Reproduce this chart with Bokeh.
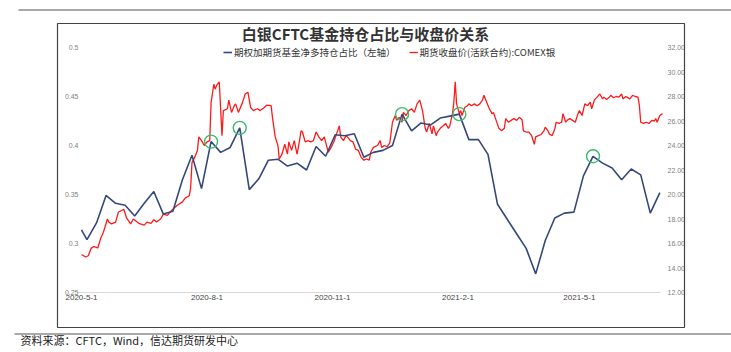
import pandas as pd
from bokeh.plotting import figure
from bokeh.models import (Range1d, LinearAxis, FixedTicker, NumeralTickFormatter,
                          Legend, LegendItem, BoxAnnotation, Label, ColumnDataSource)
from bokeh.embed import file_html
from bokeh.resources import INLINE

# ---------------- data ----------------
title_text = "白银CFTC基金持仓占比与收盘价关系"
series_names = ["期权加期货基金净多持仓占比（左轴）", "期货收盘价(活跃合约):COMEX银"]
source_note = "资料来源：CFTC，Wind，信达期货研发中心"

cftc_dates = ["2020-05-01"] + [d.strftime("%Y-%m-%d") for d in pd.date_range("2020-05-05", periods=61, freq="7D")]
cftc_ratio = [0.314, 0.304, 0.321, 0.349, 0.341, 0.339, 0.328, 0.341, 0.353, 0.330,
              0.333, 0.365, 0.390, 0.356, 0.404, 0.393, 0.398, 0.418, 0.355, 0.366,
              0.385, 0.386, 0.379, 0.382, 0.375, 0.399, 0.389, 0.411, 0.410, 0.412,
              0.388, 0.393, 0.395, 0.400, 0.432, 0.415, 0.423, 0.421, 0.428, 0.430,
              0.432, 0.406, 0.406, 0.391, 0.340, 0.325, 0.310, 0.295, 0.269, 0.303,
              0.326, 0.331, 0.332, 0.369, 0.389, 0.382, 0.377, 0.365, 0.376, 0.370,
              0.331, 0.352]
highlight_idx = [14, 17, 34, 40, 54]

price_start = "2020-05-01"
price_day = [0, 3, 5, 7, 9, 12, 14, 16, 19, 20, 22, 25, 27, 31, 33, 36, 38, 42, 46, 48,
             51, 53, 55, 58, 60, 63, 66, 70, 74, 76, 79, 80, 81, 83, 85, 86, 88, 90, 92, 94,
             95, 97, 98, 99, 101, 103, 104, 107, 108, 110, 112, 113, 115, 118, 120, 122, 124, 126, 129, 131,
             134, 136, 139, 140, 142, 144, 145, 147, 149, 151, 152, 154, 156, 158, 159, 161, 162, 164, 166, 168,
             170, 172, 174, 176, 178, 180, 181, 183, 185, 187, 189, 190, 192, 194, 195, 197, 199, 201, 203, 205,
             207, 209, 211, 212, 214, 217, 219, 220, 222, 224, 226, 228, 230, 231, 233, 235, 236, 238, 240, 242,
             244, 246, 248, 250, 252, 253, 255, 257, 258, 260, 261, 263, 265, 267, 269, 270, 272, 273, 274, 275,
             277, 278, 279, 281, 283, 284, 286, 288, 290, 292, 294, 295, 297, 299, 301, 302, 304, 306, 308, 310,
             311, 313, 315, 317, 319, 321, 323, 324, 326, 328, 330, 332, 333, 335, 337, 339, 340, 342, 343, 345,
             347, 348, 350, 352, 353, 355, 356, 358, 360, 362, 364, 365, 367, 369, 371, 373, 374, 376, 378, 380,
             382, 383, 385, 387, 388, 390, 392, 394, 396, 397, 399, 400, 402, 404, 406, 408, 409, 410, 412, 414,
             416, 418, 420, 421, 422, 424, 426]
price = [15.1, 14.9, 15.0, 15.6, 15.75, 15.65, 16.4, 16.9, 18.0, 17.75, 17.6, 17.75, 18.55, 18.8, 18.1, 17.6, 18.0, 17.65, 17.5, 17.75,
         17.65, 17.95, 17.75, 18.0, 18.4, 18.3, 18.7, 19.1, 19.4, 19.7, 19.9, 20.5, 22.6, 23.05, 23.6, 24.7, 24.4, 24.0, 24.3, 24.4,
         27.5, 29.0, 28.6, 28.9, 29.2, 24.8, 26.85, 27.0, 27.7, 26.7, 27.25, 27.4, 26.7, 27.5, 28.2, 28.35, 27.1, 26.85, 27.0, 26.85,
         27.1, 27.3, 27.25, 26.3, 24.7, 24.0, 22.9, 23.3, 24.1, 23.3, 24.3, 23.6, 24.4, 23.3, 23.85, 25.2, 25.1, 24.3, 24.4, 24.3,
         24.4, 25.1, 24.7, 24.4, 24.7, 23.85, 23.45, 23.85, 24.3, 24.95, 25.6, 24.7, 24.4, 24.8, 24.7, 24.4, 24.3, 23.7, 23.6, 23.05,
         22.8, 22.9, 22.8, 23.45, 23.85, 24.0, 24.4, 23.85, 24.0, 23.9, 24.2, 25.9, 26.45, 26.05, 26.3, 25.9, 26.7, 26.45, 26.85, 27.0,
         26.7, 27.4, 27.7, 26.85, 25.4, 25.1, 25.8, 24.95, 25.6, 24.8, 25.1, 25.4, 25.6, 25.8, 25.4, 25.6, 26.6, 27.55, 29.2, 27.4,
         26.6, 26.85, 26.45, 27.1, 27.25, 27.4, 27.25, 27.4, 27.25, 27.4, 27.7, 28.1, 27.55, 27.0, 26.6, 26.7, 26.05, 25.4, 25.2, 25.4,
         26.2, 25.9, 26.05, 26.2, 26.05, 26.3, 26.1, 25.2, 25.1, 25.1, 24.8, 24.1, 24.7, 24.8, 24.9, 25.2, 25.5, 25.2, 24.95, 24.8,
         25.35, 25.9, 25.8, 25.9, 26.6, 25.9, 26.05, 26.2, 26.05, 25.9, 26.6, 26.85, 26.45, 27.4, 27.25, 27.55, 27.0, 27.7, 27.95, 28.2,
         27.8, 27.95, 27.75, 27.95, 28.1, 27.9, 28.0, 27.95, 28.2, 27.8, 28.0, 27.95, 27.8, 28.1, 28.0, 27.95, 27.25, 25.9, 25.8, 25.9,
         25.8, 26.05, 26.0, 26.2, 25.9, 26.45, 26.6]

left_ticks = [0.25, 0.3, 0.35, 0.4, 0.45, 0.5]
right_ticks = [12, 14, 16, 18, 20, 22, 24, 26, 28, 30, 32]
x_tick_dates = ["2020-05-01", "2020-08-01", "2020-11-01", "2021-02-01", "2021-05-01"]
x_tick_labels = ["2020-5-1", "2020-8-1", "2020-11-1", "2021-2-1", "2021-5-1"]

# ---------------- layout helpers (canvas pixel <-> data) ----------------
W, H = 731, 352
DAY_MS = 86400000.0
PX_PER_DAY = 1.364
X0_PX = 81            # pixel of first date
def ms(ts):
    return pd.Timestamp(ts).value / 1e6
def x_at(px):
    return ms(price_start) + (px - X0_PX) / PX_PER_DAY * DAY_MS
def left_at(py):      # 0.5 at y=47, 0.25 at y=292
    return 0.5 - (py - 47) / 980.0
def right_at(py):     # 32 at y=47, 12 at y=292
    return 32 - (py - 47) / 12.25

cftc_x = pd.to_datetime(cftc_dates)
price_x = pd.Timestamp(price_start) + pd.to_timedelta(price_day, unit="D")

CJK = "Noto Sans CJK SC"

p = figure(width=W, height=H, x_axis_type=None, y_axis_type=None,
           output_backend="svg", toolbar_location=None,
           x_range=Range1d(x_at(0), x_at(W)), y_range=Range1d(left_at(H), left_at(0)),
           min_border_left=0, min_border_right=0, min_border_top=0, min_border_bottom=0)
p.title.visible = False
p.background_fill_color = "white"
p.border_fill_color = "white"
p.outline_line_color = None
p.extra_y_ranges = {"price": Range1d(right_at(H), right_at(0))}

def style_axis(a, size, color, standoff):
    a.major_tick_line_color = None
    a.minor_tick_line_color = None
    a.major_tick_out = 0
    a.major_tick_in = 0
    a.minor_tick_out = 0
    a.minor_tick_in = 0
    a.major_label_text_font_size = size
    a.major_label_text_color = color
    a.major_label_text_font = "Liberation Sans"
    a.major_label_standoff = standoff

# left axis (drawn inside the canvas)
ya = LinearAxis(ticker=FixedTicker(ticks=left_ticks), formatter=NumeralTickFormatter(format="0.[00]"),
                fixed_location=x_at(80), bounds=(0.25, 0.5))
ya.axis_line_color = None
style_axis(ya, "7px", "#808080", 2)
p.add_layout(ya, "left")

# right axis
ra = LinearAxis(y_range_name="price", ticker=FixedTicker(ticks=right_ticks),
                formatter=NumeralTickFormatter(format="0.00"),
                fixed_location=x_at(663), bounds=(12, 32))
ra.axis_line_color = None
style_axis(ra, "7px", "#808080", 4)
p.add_layout(ra, "right")

# bottom (date) axis
xt = [ms(d) for d in x_tick_dates]
xa = LinearAxis(ticker=FixedTicker(ticks=xt), fixed_location=0.25, bounds=(x_at(76), x_at(660)))
xa.major_label_overrides = {int(t): lab for t, lab in zip(xt, x_tick_labels)}
xa.axis_line_color = "#d9d9d9"
xa.axis_line_width = 1
style_axis(xa, "8px", "#444444", 2)
p.add_layout(xa, "below")

blue_src = ColumnDataSource(dict(x=cftc_x, y=cftc_ratio))
red_src = ColumnDataSource(dict(x=price_x, y=price))
hl_src = ColumnDataSource(dict(x=[cftc_x[i] for i in highlight_idx], y=[cftc_ratio[i] for i in highlight_idx]))

r_red = p.line("x", "y", source=red_src, y_range_name="price", line_color="#ff1a1a", line_width=1.3)
r_blue = p.line("x", "y", source=blue_src, line_color="#34497a", line_width=1.6)
p.scatter("x", "y", source=hl_src, marker="circle", size=13, fill_color=None,
          line_color="#3dbb6a", line_width=1.4)

legend = Legend(items=[LegendItem(label=series_names[0], renderers=[r_blue]),
                       LegendItem(label=series_names[1], renderers=[r_red])],
                orientation="horizontal", location=(223, H - 59))
legend.border_line_color = None
legend.background_fill_alpha = 0
legend.label_text_font = CJK
legend.label_text_font_size = "9.5px"
legend.label_text_color = "#333333"
legend.glyph_width = 9
legend.glyph_height = 10
legend.label_standoff = 2
legend.spacing = 13
legend.padding = 0
legend.margin = 0
p.add_layout(legend)

# chart frame and page rules, in data units computed from pixel positions
p.add_layout(BoxAnnotation(left=x_at(57), right=x_at(684), top=left_at(23), bottom=left_at(327),
                           fill_alpha=0, line_color="#444444", line_alpha=1, line_width=1.2))
p.add_layout(BoxAnnotation(left=x_at(18), right=x_at(731), top=left_at(9), bottom=left_at(10),
                           fill_color="#555555", fill_alpha=1, line_color=None))
p.add_layout(BoxAnnotation(left=x_at(14), right=x_at(731), top=left_at(333), bottom=left_at(334),
                           fill_color="#555555", fill_alpha=1, line_color=None))

# title and source note
p.add_layout(Label(x=365, y=33, x_units="canvas", y_units="canvas", text=title_text,
                   text_font=CJK, text_font_size="15px", text_font_style="bold",
                   text_color="#333333", text_align="center", text_baseline="middle"))
p.add_layout(Label(x=20, y=339, x_units="canvas", y_units="canvas", text=source_note,
                   text_font=CJK, text_font_size="11px", text_color="#222222",
                   text_baseline="middle"))

open("out.html", "w").write(file_html(p, INLINE))
